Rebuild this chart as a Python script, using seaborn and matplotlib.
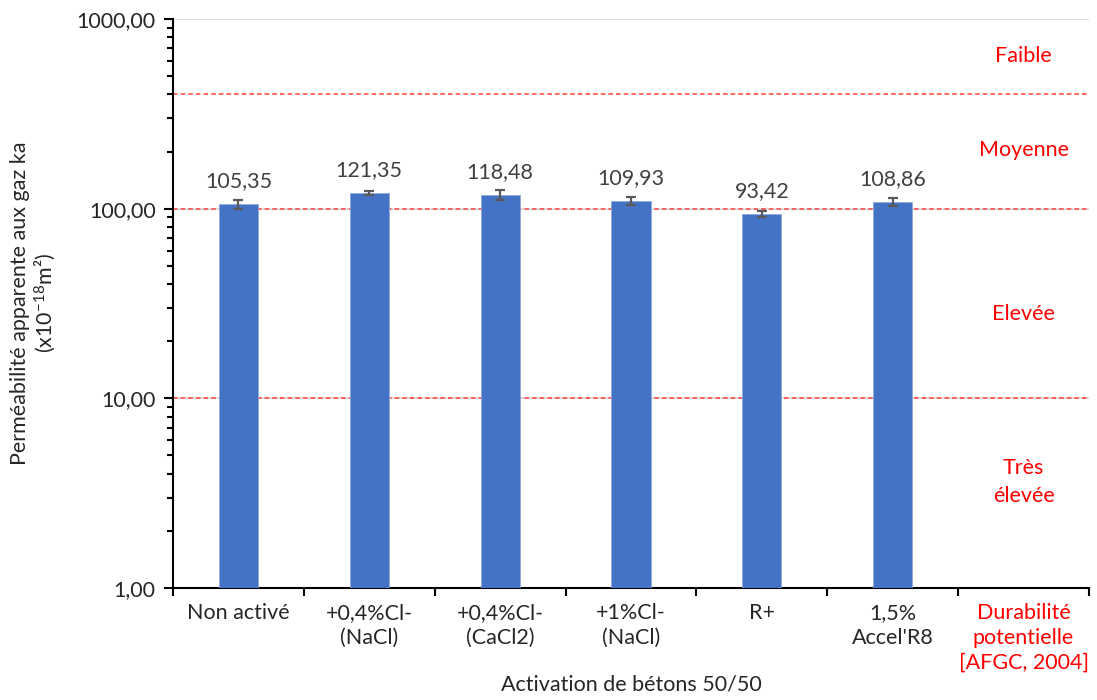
import numpy as np
import pandas as pd
import matplotlib
matplotlib.use("Agg")
import matplotlib.pyplot as plt
import matplotlib.ticker as mticker
import seaborn as sns

# Données
categories = ["Non activé", "+0,4%Cl-\n(NaCl)", "+0,4%Cl-\n(CaCl2)",
              "+1%Cl-\n(NaCl)", "R+", "1,5%\nAccel'R8"]
derniere_cat = "Durabilité\npotentielle\n[AFGC, 2004]"
permeabilite = [105.35, 121.35, 118.48, 109.93, 93.42, 108.86]
erreurs = [5.8, 3.2, 7.6, 5.1, 3.2, 5.0]

seuils = [10, 100, 400]
classes = ["Très\nélevée", "Elevée", "Moyenne", "Faible"]
classes_y = [3.6, 28, 204, 640]

TAILLE = 15.5

sns.set_theme(style="white")
plt.rcParams['font.family'] = ['Lato', 'DejaVu Sans']
plt.rcParams['mathtext.fontset'] = 'custom'
plt.rcParams['mathtext.rm'] = 'Lato'
plt.rcParams['mathtext.it'] = 'Lato:italic'

df = pd.DataFrame({"cat": categories, "val": permeabilite})
ordre = categories + [derniere_cat]

fig = plt.figure(figsize=(10.97, 7.0), dpi=100)
ax = fig.add_axes([0.1577, 0.16, 0.835, 0.8129])
ax.set_yscale("log")

sns.barplot(data=df, x="cat", y="val", order=ordre, color="#4472C4",
            saturation=1, width=0.3, errorbar=None, ax=ax,
            edgecolor="#8FAADC", linewidth=0.6, zorder=3)

ax.errorbar(np.arange(len(permeabilite)), permeabilite, yerr=erreurs,
            fmt="none", ecolor="#595959", elinewidth=1.6, capsize=3.5,
            capthick=1.6, zorder=4)

# Étiquettes de valeurs
for i, v in enumerate(permeabilite):
    ax.annotate(f"{v:.2f}".replace(".", ","), (i, v), xytext=(0, 16.5),
                textcoords="offset points", ha="center", va="center",
                fontsize=TAILLE, color="#404040", zorder=5)

# Limites de classes (AFGC)
for s in seuils:
    ax.axhline(s, color="#FF4040", lw=1.1, ls=(0, (3, 2)), zorder=2)
for txt, y in zip(classes, classes_y):
    ax.text(6, y, txt, ha="center", va="center", fontsize=TAILLE,
            color="#FF0000", linespacing=1.5)

ax.set_ylim(1, 1000)
ax.set_xlim(-0.5, 6.5)
ax.yaxis.set_major_locator(mticker.LogLocator(base=10))
ax.yaxis.set_minor_locator(mticker.LogLocator(base=10, subs=np.arange(2, 10)))
ax.yaxis.set_major_formatter(mticker.FuncFormatter(
    lambda v, p: f"{v:.2f}".replace(".", ",")))
ax.yaxis.set_minor_formatter(mticker.NullFormatter())
ax.grid(axis="y", which="major", color="#D9D9D9", lw=1.2, zorder=0)
ax.set_axisbelow(True)

# Graduations de l'axe X aux limites des catégories
ax.set_xticks(np.arange(7))
ax.set_xticklabels(ordre)
ax.xaxis.set_minor_locator(mticker.FixedLocator(np.arange(-0.5, 7, 1)))
ax.tick_params(axis="x", which="major", length=0, pad=11, labelsize=TAILLE,
               colors="#262626")
ax.tick_params(axis="x", which="minor", bottom=True, length=6, width=1.5,
               color="black")
ax.tick_params(axis="y", which="major", left=True, length=6.5, width=1.5,
               color="black", labelsize=TAILLE, labelcolor="#262626", pad=6)
ax.tick_params(axis="y", which="minor", left=True, length=4.5, width=1.5,
               color="black")
ax.get_xticklabels()[-1].set_color("#FF0000")
for lab in ax.get_xticklabels():
    lab.set_linespacing(1.3)

for side in ["top", "right"]:
    ax.spines[side].set_visible(False)
for side in ["left", "bottom"]:
    ax.spines[side].set_color("black")
    ax.spines[side].set_linewidth(1.5)

ax.set_xlabel("Activation de bétons 50/50", fontsize=TAILLE, color="#262626")
ax.xaxis.set_label_coords(0.5, -0.152)
ax.set_ylabel("Perméabilité apparente aux gaz ka\n(x10$^{-18}$m²)",
              fontsize=TAILLE, color="#262626", labelpad=13, linespacing=1.15)

fig.savefig("out.png", dpi=100)
